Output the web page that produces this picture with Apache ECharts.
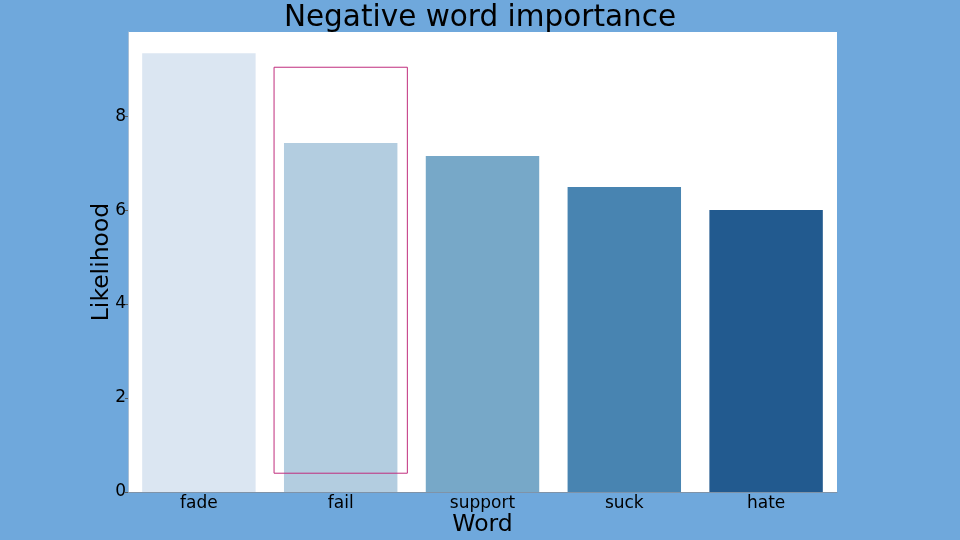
<!DOCTYPE html>
<html lang="en">
<head>
    <meta charset="UTF-8">
    <title>Negative word importance</title>
    <script src="https://cdn.jsdelivr.net/npm/echarts@6/dist/echarts.min.js"></script>
    <style>
        html, body { margin: 0; padding: 0; background: #6fa8dc; }
        #chart { width: 960px; height: 540px; }
    </style>
</head>
<body>
<div id="chart"></div>
<script>
    var words = ['fade', 'fail', 'support', 'suck', 'hate'];
    var likelihood = [9.34, 7.43, 7.15, 6.49, 6.0];
    var barColors = ['#dbe6f2', '#b3cde0', '#77a8c8', '#4884b1', '#225a8f'];
    // highlight box around "fail" (data units)
    var boxWord = 'fail';
    var boxRange = [0.4, 9.04];

    var myChart = echarts.init(document.getElementById('chart'));
    var font = 'DejaVu Sans';
    var option = {
        backgroundColor: '#6fa8dc',
        animation: false,
        title: {
            text: 'Negative word importance',
            left: 'center',
            top: -2,
            textStyle: { fontFamily: font, fontSize: 29.5, fontWeight: 'normal', color: '#000' }
        },
        grid: { left: 128, right: 123, top: 32, bottom: 48, backgroundColor: '#fff', show: true,
            borderWidth: 0, outerBoundsMode: 'none', containLabel: false },
        xAxis: {
            type: 'category',
            data: words,
            name: 'Word',
            nameLocation: 'middle',
            nameGap: 21,
            nameMoveOverlap: false,
            nameTextStyle: { fontFamily: font, fontSize: 23.5, color: '#000' },
            axisLine: { lineStyle: { color: '#7f93a8', width: 1 } },
            axisTick: { show: false },
            axisLabel: { fontFamily: font, fontSize: 17, color: '#000', margin: 3 }
        },
        yAxis: {
            type: 'value',
            min: 0,
            max: 9.79,
            interval: 2,
            name: 'Likelihood',
            nameLocation: 'middle',
            nameGap: 14,
            nameMoveOverlap: false,
            nameTextStyle: { fontFamily: font, fontSize: 23.5, color: '#000' },
            axisLine: { show: true, lineStyle: { color: '#a9bfd6', width: 1 } },
            axisTick: { show: true, length: 3, lineStyle: { color: '#555' } },
            axisLabel: { fontFamily: font, fontSize: 17, color: '#000', margin: 2,
                showMaxLabel: false },
            splitLine: { show: false }
        },
        series: [{
            type: 'bar',
            barWidth: '80%',
            data: likelihood.map(function (v, i) {
                return { value: v, itemStyle: { color: barColors[i] } };
            })
        }]
    };
    myChart.setOption(option);

    // place the highlight rectangle from data coordinates
    var p0 = myChart.convertToPixel({ gridIndex: 0 }, [boxWord, boxRange[1]]);
    var p1 = myChart.convertToPixel({ gridIndex: 0 }, [boxWord, boxRange[0]]);
    var band = (960 - 128 - 123) / words.length;
    var w = band * 0.94;
    myChart.setOption({
        graphic: [{
            type: 'rect',
            shape: { x: p0[0] - w / 2, y: p0[1], width: w, height: p1[1] - p0[1] },
            style: { fill: 'none', stroke: '#c02d7d', lineWidth: 1 },
            z: 10
        }]
    });
</script>
</body>
</html>
